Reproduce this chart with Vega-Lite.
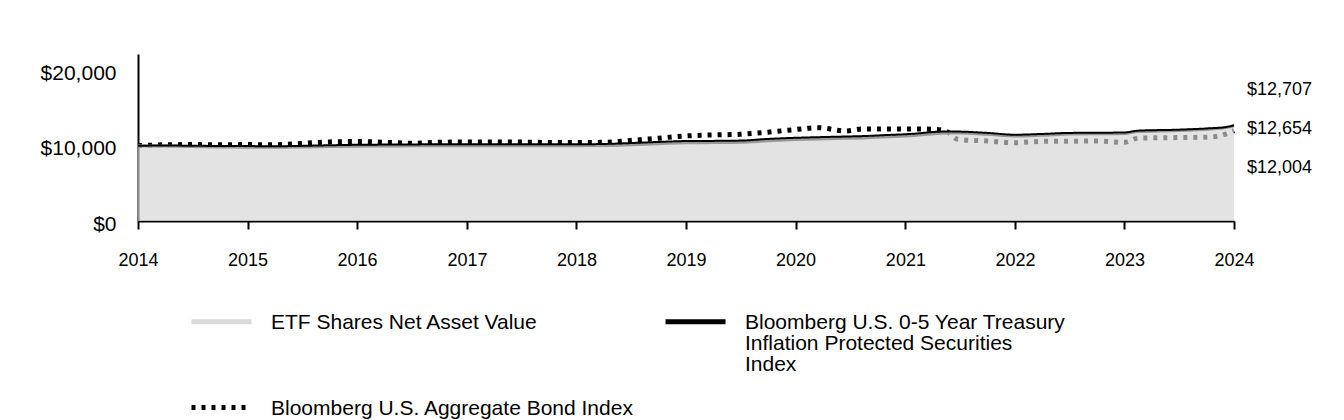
{
  "$schema": "https://vega.github.io/schema/vega-lite/v6.json",
  "width": 1096,
  "height": 167,
  "autosize": {"type": "none"},
  "padding": {"left": 138, "top": 54, "right": 110, "bottom": 199},
  "background": "white",
  "config": {"font": "Liberation Sans", "view": {"stroke": null}},
  "datasets": {
    "growth": [
      {"date": "2014-01-01", "tips": 10000, "etf": 10000, "agg": 10000},
      {"date": "2014-04-01", "tips": 10020, "etf": 9950, "agg": 10120},
      {"date": "2014-07-01", "tips": 10000, "etf": 9900, "agg": 10150},
      {"date": "2014-10-01", "tips": 9960, "etf": 9840, "agg": 10120},
      {"date": "2015-01-01", "tips": 9950, "etf": 9810, "agg": 10150},
      {"date": "2015-04-01", "tips": 9930, "etf": 9780, "agg": 10130},
      {"date": "2015-07-01", "tips": 9980, "etf": 9820, "agg": 10300},
      {"date": "2015-10-01", "tips": 10060, "etf": 9890, "agg": 10500},
      {"date": "2016-01-01", "tips": 10120, "etf": 9940, "agg": 10560},
      {"date": "2016-04-01", "tips": 10150, "etf": 9960, "agg": 10450},
      {"date": "2016-07-01", "tips": 10170, "etf": 9980, "agg": 10330},
      {"date": "2016-10-01", "tips": 10190, "etf": 9990, "agg": 10450},
      {"date": "2017-01-01", "tips": 10200, "etf": 10000, "agg": 10500},
      {"date": "2017-04-01", "tips": 10200, "etf": 10000, "agg": 10500},
      {"date": "2017-07-01", "tips": 10200, "etf": 10000, "agg": 10480},
      {"date": "2017-10-01", "tips": 10190, "etf": 9990, "agg": 10430},
      {"date": "2018-01-01", "tips": 10190, "etf": 9990, "agg": 10410},
      {"date": "2018-04-01", "tips": 10230, "etf": 10020, "agg": 10450},
      {"date": "2018-07-01", "tips": 10350, "etf": 10130, "agg": 10700},
      {"date": "2018-10-01", "tips": 10500, "etf": 10270, "agg": 11000},
      {"date": "2019-01-01", "tips": 10620, "etf": 10390, "agg": 11300},
      {"date": "2019-04-01", "tips": 10640, "etf": 10410, "agg": 11430},
      {"date": "2019-07-01", "tips": 10680, "etf": 10450, "agg": 11520},
      {"date": "2019-10-01", "tips": 10900, "etf": 10660, "agg": 11800},
      {"date": "2020-01-01", "tips": 11050, "etf": 10810, "agg": 12150},
      {"date": "2020-03-15", "tips": 11130, "etf": 10890, "agg": 12400},
      {"date": "2020-06-15", "tips": 11220, "etf": 10980, "agg": 11960},
      {"date": "2020-08-15", "tips": 11280, "etf": 11040, "agg": 12230},
      {"date": "2020-11-01", "tips": 11420, "etf": 11180, "agg": 12230},
      {"date": "2021-02-01", "tips": 11600, "etf": 11370, "agg": 12230},
      {"date": "2021-04-15", "tips": 11850, "etf": 11630, "agg": 12150},
      {"date": "2021-05-20", "tips": 11890, "etf": 11680, "agg": 11850},
      {"date": "2021-06-25", "tips": 11880, "etf": 11680, "agg": 10850},
      {"date": "2021-10-01", "tips": 11700, "etf": 11520, "agg": 10620},
      {"date": "2022-01-01", "tips": 11460, "etf": 11300, "agg": 10400},
      {"date": "2022-04-01", "tips": 11560, "etf": 11400, "agg": 10580},
      {"date": "2022-07-01", "tips": 11700, "etf": 11550, "agg": 10600},
      {"date": "2022-10-01", "tips": 11720, "etf": 11580, "agg": 10620},
      {"date": "2023-01-01", "tips": 11760, "etf": 11630, "agg": 10450},
      {"date": "2023-02-15", "tips": 12000, "etf": 11880, "agg": 11000},
      {"date": "2023-07-01", "tips": 12130, "etf": 12020, "agg": 11080},
      {"date": "2023-10-15", "tips": 12320, "etf": 12230, "agg": 11150},
      {"date": "2023-12-01", "tips": 12450, "etf": 12380, "agg": 11500},
      {"date": "2024-01-01", "tips": 12707, "etf": 12654, "agg": 12004}
    ],
    "ends": [
      {"date": "2024-01-01", "key": "tips", "value": 12707, "label": "$12,707"},
      {"date": "2024-01-01", "key": "etf", "value": 12654, "label": "$12,654"},
      {"date": "2024-01-01", "key": "agg", "value": 12004, "label": "$12,004"}
    ]
  },
  "encoding": {
    "x": {
      "field": "date",
      "type": "temporal",
      "title": null,
      "scale": {"type": "utc", "domain": ["2014-01-01", "2024-01-01"]},
      "axis": {
        "format": "%Y",
        "tickCount": {"interval": "year", "step": 1},
        "labelFontSize": 18,
        "labelColor": "black",
        "labelFont": "Liberation Sans",
        "labelPadding": 22,
        "labelOverlap": false,
        "labelFlush": false,
        "domainColor": "black",
        "domainWidth": 2,
        "tickColor": "black",
        "tickWidth": 2,
        "tickSize": 8,
        "grid": false
      }
    },
    "y": {
      "field": "value",
      "type": "quantitative",
      "title": null,
      "scale": {"domain": [0, 22180], "nice": false},
      "axis": {
        "values": [0, 10000, 20000],
        "format": "$,.0f",
        "labelFontSize": 21,
        "labelColor": "black",
        "labelFont": "Liberation Sans",
        "labelPadding": 22,
        "labelOffset": 3,
        "ticks": false,
        "domainColor": "black",
        "domainWidth": 2,
        "grid": false
      }
    }
  },
  "layer": [
    {
      "data": {"name": "growth"},
      "transform": [{"fold": ["agg"], "as": ["key", "value"]}],
      "mark": {"type": "line", "strokeWidth": 5, "interpolate": "monotone", "strokeCap": "butt"},
      "encoding": {
        "color": {
          "field": "key",
          "type": "nominal",
          "title": null,
          "scale": {"domain": ["etf", "tips", "agg"], "range": ["#d9d9d9", "#000000", "#000000"]},
          "legend": {
            "orient": "none",
            "legendX": 51,
            "legendY": 235,
            "direction": "horizontal",
            "columns": 2,
            "symbolType": "stroke",
            "symbolSize": 3600,
            "symbolStrokeWidth": 5,
            "labelFont": "Liberation Sans",
            "labelFontSize": 21,
            "labelColor": "black",
            "labelLimit": 700,
            "labelOffset": 17,
            "labelBaseline": "top",
            "columnPadding": 20,
            "rowPadding": 0,
            "labelExpr": "datum.value === 'etf' ? ['ETF Shares Net Asset Value', '', ''] : datum.value === 'tips' ? ['Bloomberg U.S. 0-5 Year Treasury', 'Inflation Protected Securities', 'Index'] : 'Bloomberg U.S. Aggregate Bond Index'",
            "encode": {
              "labels": {"update": {"dy": {"value": -10}, "lineHeight": {"value": 21}}}
            }
          }
        },
        "strokeDash": {
          "field": "key",
          "type": "nominal",
          "title": null,
          "scale": {"domain": ["etf", "tips", "agg"], "range": [[1, 0], [1, 0], [4, 6]]}
        }
      }
    },
    {
      "data": {"name": "growth"},
      "transform": [{"fold": ["etf"], "as": ["key", "value"]}],
      "mark": {"type": "area", "color": "#d4d4d4", "opacity": 0.66, "interpolate": "monotone"}
    },
    {
      "data": {"name": "growth"},
      "transform": [{"fold": ["etf"], "as": ["key", "value"]}],
      "mark": {"type": "line", "color": "#999999", "strokeWidth": 3, "interpolate": "monotone"}
    },
    {
      "data": {"name": "growth"},
      "transform": [{"fold": ["tips"], "as": ["key", "value"]}],
      "mark": {"type": "line", "strokeWidth": 2, "interpolate": "monotone"},
      "encoding": {
        "color": {"field": "key", "type": "nominal", "title": null},
        "strokeDash": {"field": "key", "type": "nominal", "title": null}
      }
    },
    {
      "data": {"name": "ends"},
      "transform": [{"filter": "datum.key === 'tips'"}],
      "mark": {"type": "text", "align": "left", "baseline": "middle", "dx": 13, "dy": -35.5, "fontSize": 18, "font": "Liberation Sans", "color": "black"},
      "encoding": {"text": {"field": "label"}}
    },
    {
      "data": {"name": "ends"},
      "transform": [{"filter": "datum.key === 'etf'"}],
      "mark": {"type": "text", "align": "left", "baseline": "middle", "dx": 13, "dy": 3, "fontSize": 18, "font": "Liberation Sans", "color": "black"},
      "encoding": {"text": {"field": "label"}}
    },
    {
      "data": {"name": "ends"},
      "transform": [{"filter": "datum.key === 'agg'"}],
      "mark": {"type": "text", "align": "left", "baseline": "middle", "dx": 13, "dy": 37, "fontSize": 18, "font": "Liberation Sans", "color": "black"},
      "encoding": {"text": {"field": "label"}}
    }
  ]
}
